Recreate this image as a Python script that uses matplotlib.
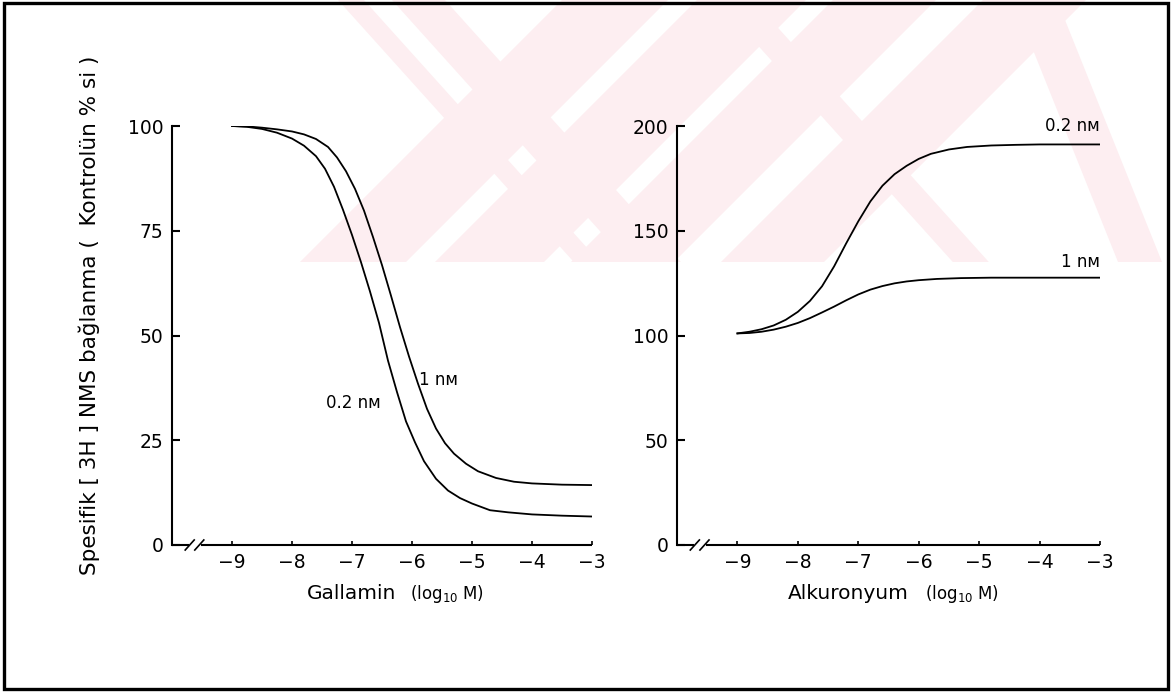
import matplotlib.pyplot as plt
from matplotlib.patches import Polygon, Rectangle

plt.rcParams['font.family'] = ['DejaVu Sans']
plt.rcParams['mathtext.fontset'] = 'dejavusans'

# Gallamin (left panel)
gal_x_1nm = [-9, -8.75, -8.5, -8.25, -8.0, -7.8, -7.6, -7.4, -7.25, -7.1, -6.95,
             -6.8, -6.65, -6.5, -6.35, -6.2, -6.05, -5.9, -5.75, -5.6, -5.45,
             -5.3, -5.1, -4.9, -4.6, -4.3, -4.0, -3.5, -3.0]
gal_y_1nm = [100, 99.9, 99.6, 99.2, 98.7, 98.0, 96.9, 95, 92.5, 89.2, 85,
             79.8, 73.5, 66.8, 59.5, 52, 45, 38.5, 32.5, 27.8, 24.3,
             21.8, 19.4, 17.6, 16.0, 15.1, 14.7, 14.4, 14.3]
gal_x_02nm = [-9, -8.75, -8.5, -8.25, -8.0, -7.8, -7.6, -7.45, -7.3, -7.15, -7.0,
              -6.85, -6.7, -6.55, -6.4, -6.25, -6.1, -5.95, -5.8, -5.6, -5.4,
              -5.2, -5.0, -4.7, -4.4, -4.0, -3.5, -3.0]
gal_y_02nm = [100, 99.8, 99.3, 98.4, 97.0, 95.3, 92.8, 89.8, 85.5, 80, 74,
              67.5, 60.5, 53, 44, 36.5, 29.5, 24.5, 20, 15.8, 13,
              11.2, 9.9, 8.3, 7.8, 7.3, 7.0, 6.8]

# Alkuronyum (right panel)
alk_x_02nm = [-9, -8.8, -8.6, -8.4, -8.2, -8.0, -7.8, -7.6, -7.4, -7.2, -7.0,
              -6.8, -6.6, -6.4, -6.2, -6.0, -5.8, -5.5, -5.2, -4.8, -4.4,
              -4.0, -3.5, -3.0]
alk_y_02nm = [101, 101.8, 103, 104.8, 107.5, 111.3, 116.5, 123.5, 133, 144, 154.5,
              164, 171.5, 177, 181, 184.3, 186.7, 188.8, 190, 190.7, 191,
              191.2, 191.2, 191.2]
alk_x_1nm = [-9, -8.8, -8.6, -8.4, -8.2, -8.0, -7.8, -7.6, -7.4, -7.2, -7.0,
             -6.8, -6.6, -6.4, -6.2, -6.0, -5.7, -5.3, -4.8, -4.0, -3.0]
alk_y_1nm = [101, 101.2, 101.8, 102.8, 104.2, 106, 108.3, 111, 113.8, 116.8, 119.6,
             121.9, 123.6, 124.9, 125.8, 126.4, 127, 127.4, 127.6, 127.6, 127.6]

x_ticks = [-9, -8, -7, -6, -5, -4, -3]
gal_yticks = [0, 25, 50, 75, 100]
alk_yticks = [0, 50, 100, 150, 200]

fig = plt.figure(figsize=(11.72, 6.92), dpi=100)

# faint watermark in the background
bg = fig.add_axes([0, 0, 1, 1], zorder=-5)
bg.set_xlim(0, 1172)
bg.set_ylim(692, 0)
bg.axis('off')
clip = Rectangle((285, 0), 885, 262, transform=bg.transData, visible=False)
bg.add_patch(clip)
wm = '#fdeef1'
H = 262
bands = []
for x0, x1 in [(300, 406), (435, 544), (571, 674), (721, 824)]:
    bands.append([(x0, H), (x1, H), (x1 + H, 0), (x0 + H, 0)])
for x0, x1 in [(338, 364), (392, 445), (717, 753)]:
    bands.append([(x0, 0), (x1, 0), (x1 + H * 0.9, H), (x0 + H * 0.9, H)])
bands.append([(1013, 0), (1057, 0), (1162, H), (1118, H)])
for b in bands:
    p = Polygon(b, closed=True, facecolor=wm, edgecolor='none')
    bg.add_patch(p)
    p.set_clip_path(clip)

# border frame
fig.patches.append(Rectangle((0.003, 0.004), 0.994, 0.992, transform=fig.transFigure,
                             fill=False, edgecolor='black', linewidth=2.4))


def style_axes(ax, ymax, yticks):
    ax.set_facecolor('none')
    ax.set_xlim(-10, -3)
    ax.set_ylim(0, ymax)
    for s in ['top', 'right', 'bottom']:
        ax.spines[s].set_visible(False)
    ax.spines['left'].set_linewidth(1.5)
    ax.set_xticks(x_ticks)
    ax.set_xticklabels([f'\u2212{abs(t)}' for t in x_ticks])
    ax.set_yticks(yticks)
    ax.tick_params(axis='y', direction='in', length=6, width=1.5, pad=6, labelsize=13.5)
    ax.tick_params(axis='x', direction='in', length=3, width=1.2, pad=6, labelsize=13.5)
    # x axis with a break near the origin
    kw = dict(color='black', lw=1.5, clip_on=False, solid_capstyle='butt')
    ax.plot([-10, -9.72], [0, 0], **kw)
    ax.plot([-9.52, -3], [0, 0], **kw)
    d = ymax * 0.012
    ax.plot([-9.78, -9.63], [-d, d], color='black', lw=1.2, clip_on=False)
    ax.plot([-9.62, -9.47], [-d, d], color='black', lw=1.2, clip_on=False)


ax1 = fig.add_axes([172 / 1172, 1 - 545 / 692, 420 / 1172, 419 / 692])
style_axes(ax1, 100, gal_yticks)
ax1.plot(gal_x_1nm, gal_y_1nm, color='black', lw=1.3)
ax1.plot(gal_x_02nm, gal_y_02nm, color='black', lw=1.3)
ax1.text(-5.55, 39.4, '1 n\u1d0d', ha='center', va='center', fontsize=12)
ax1.text(-6.97, 33.9, '0.2 n\u1d0d', ha='center', va='center', fontsize=12)
ax1.text(0.533, -0.115, 'Gallamin', transform=ax1.transAxes, ha='right', va='center', fontsize=14.5)
ax1.text(0.566, -0.118, r'(log$_{10}$ M)', transform=ax1.transAxes, ha='left', va='center', fontsize=12)
ax1.set_ylabel('Spesifik [ 3H ] NMS ba\u011flanma (  Kontrol\u00fcn % si )', fontsize=15.5)
ax1.yaxis.set_label_coords((100 - 172) / 420, 0.549)

ax2 = fig.add_axes([677 / 1172, 1 - 545 / 692, 423 / 1172, 419 / 692])
style_axes(ax2, 200, alk_yticks)
ax2.plot(alk_x_02nm, alk_y_02nm, color='black', lw=1.3)
ax2.plot(alk_x_1nm, alk_y_1nm, color='black', lw=1.3)
ax2.text(-3.0, 200, '0.2 n\u1d0d', ha='right', va='center', fontsize=12)
ax2.text(-3.0, 135, '1 n\u1d0d', ha='right', va='center', fontsize=12)
ax2.text(0.548, -0.115, 'Alkuronyum', transform=ax2.transAxes, ha='right', va='center', fontsize=14.5)
ax2.text(0.586, -0.118, r'(log$_{10}$ M)', transform=ax2.transAxes, ha='left', va='center', fontsize=12)

fig.savefig('out.png', dpi=100)
